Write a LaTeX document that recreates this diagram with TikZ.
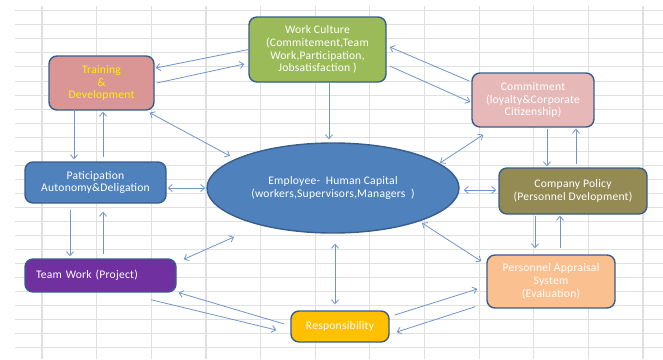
\documentclass[tikz,border=0pt]{standalone}
\usepackage{fontspec}
\setmainfont{Carlito}[LetterSpace=2]
\usetikzlibrary{shapes.geometric,arrows.meta}

\definecolor{gridgray}{HTML}{E0E0E0}
\definecolor{edgeblue}{HTML}{385D8A}
\definecolor{linkblue}{HTML}{6F95CB}
\definecolor{wcgreen}{HTML}{9BBB59}
\definecolor{trainrose}{HTML}{D99694}
\definecolor{commitpink}{HTML}{E6B9B8}
\definecolor{capblue}{HTML}{4F81BD}
\definecolor{policyolive}{HTML}{948A54}
\definecolor{teampurple}{HTML}{7030A0}
\definecolor{respgold}{HTML}{FFC000}
\definecolor{apprpeach}{HTML}{FAC090}
\definecolor{trainyellow}{HTML}{FFF000}

\begin{document}
\begin{tikzpicture}[x=1pt,y=-1pt,
		every node/.style={draw=edgeblue,line width=1.4pt,text=white,align=center,inner sep=2pt,
			font=\fontsize{11.6}{12.8}\selectfont},
		box/.style={rounded corners=8pt},
		gridline/.style={draw=gridgray,line width=0.9pt},
		link/.style={draw=linkblue,line width=0.8pt,>={Straight Barb[length=4pt,width=7pt]}}]
		\useasboundingbox (0,0) rectangle (663,359);
		% sheet grid
		\foreach \i in {0,...,11}
			\draw[gridline,line width=1.2pt] (42+54.64*\i,6) -- (42+54.64*\i,359);
		\foreach \j in {0,...,24}
			\draw[gridline] (15,10.7+14.05*\j) -- (663,10.7+14.05*\j);
		% boxes
		\node[box,fill=wcgreen,minimum width=137pt,minimum height=65pt] (wc) at (317.5,49.5)
			{Work Culture\\(Commitement,Team\\Work,Participation,\\Jobsatisfaction )};
		\node[box,fill=trainrose,text=trainyellow,minimum width=105pt,minimum height=54pt] (train) at (101.5,83)
			{Training\\\&\\Development};
		\node[box,fill=commitpink,minimum width=122pt,minimum height=54pt] (commit) at (533,100)
			{Commitment\\(loyalty\&Corporate\\Citizenship)};
		\node[box,fill=capblue,minimum width=141pt,minimum height=41pt] (partic) at (95.5,182.5)
			{Paticipation\\Autonomy\&Deligation};
		\node[ellipse,fill=capblue,minimum width=252pt,minimum height=90pt,inner sep=0pt] (emp) at (333,188)
			{Employee-\ \ Human Capital\\(workers,Supervisors,Managers\ \ )};
		\node[box,fill=policyolive,minimum width=148pt,minimum height=46pt] (policy) at (573,191)
			{Company Policy\\(Personnel Dvelopment)};
		\node[box,fill=teampurple,minimum height=33pt,inner xsep=11pt,text width=129pt,align=left] (team) at (100.5,275.5)
			{\raisebox{3pt}{Team Work (Project)}};
		\node[box,fill=respgold,minimum width=98pt,minimum height=31pt] (resp) at (340,326.5)
			{Responsibility};
		\node[box,fill=apprpeach,minimum width=128pt,minimum height=53pt] (appr) at (551,281.5)
			{Personnel Appraisal\\System\\(Evaluation)};
		% one-way links
		\foreach \x/\dx/\dy/\y/\ex/\ey in {wc.west/0/0/train.east/1/15,
				train.east/2/0/wc.west/-4/-14.5,
				train.south/-27.5/0/partic.north/-21.5/2,
				partic.north/7.5/4/train.south/1.5/-1,
				wc.south/11.5/0/emp.north/-4/3,
				wc.east/3/-16.5/commit.west/-1/-2,
				commit.west/-2/19/wc.east/3/2.5,
				commit.south/14/-1/policy.north/-26/1,
				policy.north/3/3/commit.south/43/-1,
				partic.south/-25.5/-6/team.north/-30.5/2,
				team.north/2.5/4/partic.south/7.5/-8,
				policy.south/-38/-1/appr.north/-16/6,
				appr.north/9/6/policy.south/-13/-1,
				resp.west/-6/2.5/team.south east/2/0,
				team.south/50.5/-7/resp.west/-14/-3.5,
				resp.east/5/11.5/appr.west/-9/-7.5,
				appr.south west/-11/2/resp.east/7/-5.5}
			\draw[link,->] ([shift={(\dx pt,\dy pt)}]\x) -- ([shift={(\ex pt,\ey pt)}]\y);
		% two-way links
		\foreach \x/\dx/\dy/\y/\ex/\ey in {train.south east/-5/-2/emp.center/-103/32,
				commit.south west/12/-7/emp.center/107/25,
				partic.east/1/-5.5/emp.west/-1/0,
				emp.east/4/-2/policy.west/-2/1,
				team.north east/7/-1/emp.center/-99/-49,
				emp.center/89/-35/appr.north west/-5/-7,
				emp.south/2/-10/resp.north/-5/6}
			\draw[link,<->] ([shift={(\dx pt,\dy pt)}]\x) -- ([shift={(\ex pt,\ey pt)}]\y);
	\end{tikzpicture}
\end{document}
